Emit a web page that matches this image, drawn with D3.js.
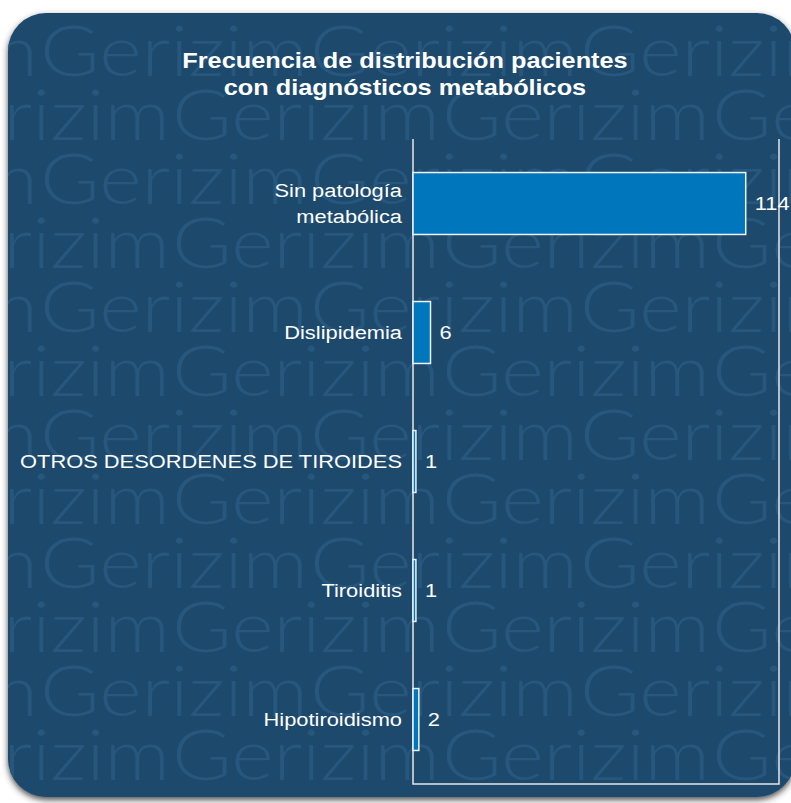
<!DOCTYPE html>
<html lang="es">
<head>
<meta charset="UTF-8">
<title>Frecuencia de distribución</title>
<script src="https://d3js.org/d3.v7.min.js"></script>
<style>
    body { margin: 0; background: #fff; }
    svg { display: block; }
</style>
</head>
<body>
<div id="chart"></div>
<script>
    // data
    const categories = ['Sin patología metabólica', 'Dislipidemia', 'OTROS DESORDENES DE TIROIDES', 'Tiroiditis', 'Hipotiroidismo'];
    const categoryLines = [['Sin patología', 'metabólica'], ['Dislipidemia'], ['OTROS DESORDENES DE TIROIDES'], ['Tiroiditis'], ['Hipotiroidismo']];
    const values = [114, 6, 1, 1, 2];
    const titleLines = ['Frecuencia de distribución pacientes', 'con diagnósticos metabólicos'];
    const watermarkWord = 'Gerizim';

    const width = 791, height = 803;
    const m = {l: 413, r: 12, t: 139, b: 19};
    const font = 'Arial, "Liberation Sans", sans-serif';
    const sx = 1.15; // text in the picture is a bit wide

    // horizontal stretch around an anchor x
    const stretch = ax => `translate(${ax},0) scale(${sx},1) translate(${-ax},0)`;

    const svg = d3.select('#chart').append('svg')
        .attr('width', width).attr('height', height);

    const defs = svg.append('defs');
    const f = defs.append('filter').attr('id', 'shadow')
        .attr('x', '-5%').attr('y', '-5%').attr('width', '110%').attr('height', '110%');
    f.append('feDropShadow').attr('dx', 0).attr('dy', 3).attr('stdDeviation', 3)
        .attr('flood-color', '#333').attr('flood-opacity', 0.85);
    defs.append('clipPath').attr('id', 'panelClip')
        .append('rect').attr('x', 8).attr('y', 13).attr('width', 787).attr('height', 784).attr('rx', 38);

    // panel
    svg.append('rect')
        .attr('x', 8).attr('y', 13).attr('width', 787).attr('height', 784).attr('rx', 38)
        .attr('fill', '#1f4a6c')
        .attr('filter', 'url(#shadow)');

    // watermark
    const wm = svg.append('g').attr('clip-path', 'url(#panelClip)');
    const period = 270;
    d3.range(12).forEach(row => {
        const y = 76 + row * 64;
        const x0 = (row % 2 ? 172 : 40) - period;
        d3.range(5).forEach(k => {
            wm.append('text')
                .attr('x', x0 + k * period).attr('y', y)
                .attr('textLength', period - 2)
                .attr('lengthAdjust', 'spacingAndGlyphs')
                .attr('font-family', 'Lato, "DejaVu Sans", sans-serif')
                .attr('font-weight', 300)
                .attr('font-size', 70)
                .attr('fill', '#28577e')
                .text(watermarkWord);
        });
    });

    // title
    svg.append('text')
        .attr('x', 405).attr('y', 68)
        .attr('text-anchor', 'middle')
        .attr('transform', stretch(405))
        .attr('font-family', font)
        .attr('font-weight', 'bold')
        .attr('font-size', 22)
        .attr('fill', '#ffffff')
        .selectAll('tspan').data(titleLines).join('tspan')
        .attr('x', 405).attr('dy', (d, i) => i ? 27 : 0)
        .text(d => d);

    const x = d3.scaleLinear().domain([0, 125.4]).range([m.l, width - m.r]);
    const y = d3.scaleBand().domain(categories)
        .range([m.t, height - m.b])
        .paddingInner(0.52).paddingOuter(0.26);

    // frame: left, right, bottom
    svg.append('path')
        .attr('d', `M${x(0)},${m.t}V${height - m.b}H${x.range()[1]}V${m.t}`)
        .attr('stroke', '#e6e6e6').attr('stroke-width', 1.5).attr('fill', 'none');

    // bars
    svg.append('g').selectAll('rect').data(values).join('rect')
        .attr('x', x(0))
        .attr('y', (d, i) => y(categories[i]))
        .attr('width', d => x(d) - x(0))
        .attr('height', y.bandwidth())
        .attr('fill', '#0077bd')
        .attr('stroke', '#eef2f5')
        .attr('stroke-width', 1.5);

    // value labels
    svg.append('g').selectAll('text').data(values).join('text')
        .attr('x', d => x(d) + 9)
        .attr('y', (d, i) => y(categories[i]) + y.bandwidth() / 2 + 7)
        .attr('transform', d => stretch(x(d) + 9))
        .attr('font-family', font)
        .attr('font-size', 19)
        .attr('fill', '#ffffff')
        .text(d => d);

    // category labels
    const lh = 26;
    const lx = x(0) - 11;
    svg.append('g').attr('transform', stretch(lx))
        .selectAll('text').data(categories).join('text')
        .attr('text-anchor', 'end')
        .attr('font-family', font)
        .attr('font-size', 19)
        .attr('fill', '#ffffff')
        .each(function (c, i) {
            const lines = categoryLines[i];
            const cy = y(c) + y.bandwidth() / 2 + 7 - (lines.length - 1) * lh / 2;
            d3.select(this).selectAll('tspan').data(lines).join('tspan')
                .attr('x', lx)
                .attr('y', (d, j) => cy + j * lh)
                .text(d => d);
        });
</script>
</body>
</html>
